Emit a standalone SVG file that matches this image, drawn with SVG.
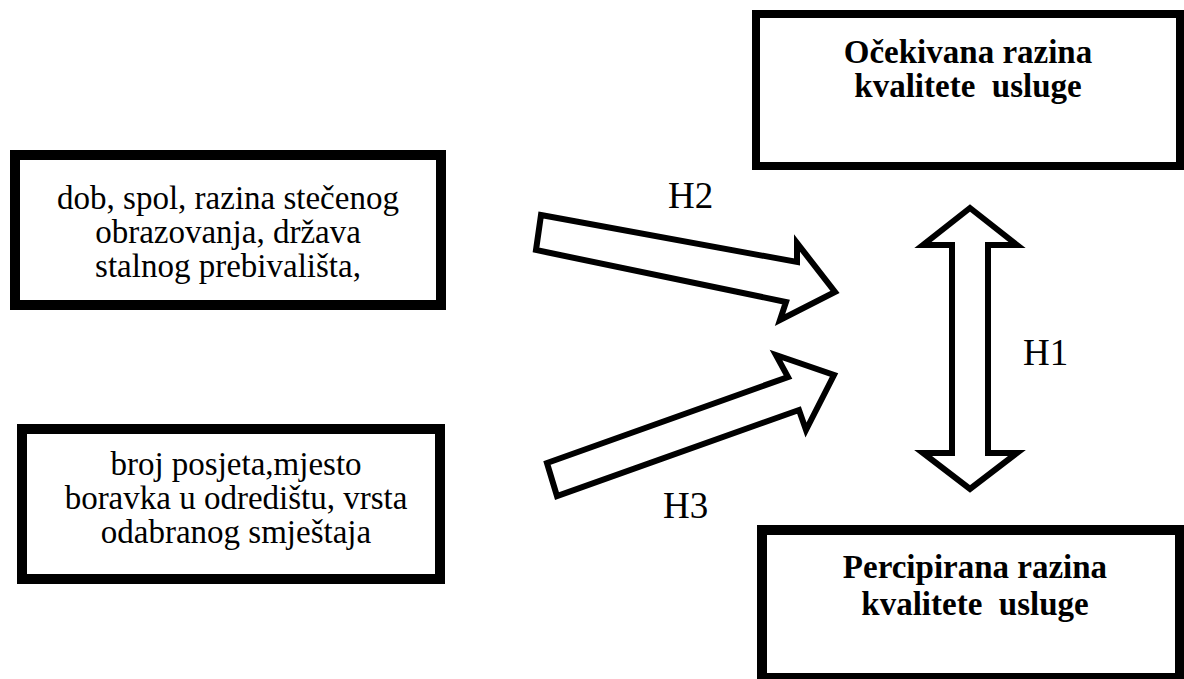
<svg xmlns="http://www.w3.org/2000/svg" width="1184" height="679" viewBox="0 0 1184 679">
<style>
.box{fill:#fff;stroke:#000;stroke-width:10}
text{font-family:'Liberation Serif','DejaVu Serif','Times New Roman',serif}
.t{font-size:33px;fill:#000;text-anchor:middle}
.b{font-weight:bold;white-space:pre}
.h{font-size:37px;fill:#000}
.arr{fill:#fff;stroke:#000;stroke-width:6;stroke-linejoin:miter}
</style>
<rect width="1184" height="679" fill="#fff"/>
<g id="node-demo">
<rect class="box" x="15" y="155" width="426" height="150"/>
<text class="t" x="228" y="209" font-family="Liberation Serif, serif">dob, spol, razina stečenog</text>
<text class="t" x="228" y="243" font-family="Liberation Serif, serif">obrazovanja, država</text>
<text class="t" x="228" y="277" font-family="Liberation Serif, serif">stalnog prebivališta,</text>
</g>
<g id="node-visit">
<rect class="box" x="22" y="429" width="418" height="150"/>
<text class="t" x="236" y="475" font-family="Liberation Serif, serif">broj posjeta,mjesto</text>
<text class="t" x="236" y="509" font-family="Liberation Serif, serif">boravka u odredištu, vrsta</text>
<text class="t" x="236" y="543" font-family="Liberation Serif, serif">odabranog smještaja</text>
</g>
<g id="node-expected">
<rect class="box" style="stroke-width:8" x="756" y="14" width="424" height="152"/>
<text class="t b" x="968" y="63" font-family="Liberation Serif, serif">Očekivana razina</text>
<text class="t b" x="968" y="97" font-family="Liberation Serif, serif">kvalitete  usluge</text>
</g>
<g id="node-perceived">
<rect class="box" x="762" y="530" width="418" height="148"/>
<text class="t b" x="975" y="578" font-family="Liberation Serif, serif">Percipirana razina</text>
<text class="t b" x="975" y="615" font-family="Liberation Serif, serif">kvalitete  usluge</text>
</g>
<g id="connectors">
<polygon class="arr" points="541,215 797,262 797,243 835,292 780,320 786,302 536,250"/>
<polygon class="arr" points="547,463 788,377 776,355 834,375 806,430 799,410 557,496"/>
<polygon class="arr" points="970,208 1017,245 988,245 988,453 1017,453 970,489 923,453 952,453 952,245 923,245"/>
<text class="h" x="668" y="208" font-family="Liberation Serif, serif">H2</text>
<text class="h" x="663" y="518" font-family="Liberation Serif, serif">H3</text>
<text class="h" x="1023" y="365" font-family="Liberation Serif, serif">H1</text>
</g>
</svg>
